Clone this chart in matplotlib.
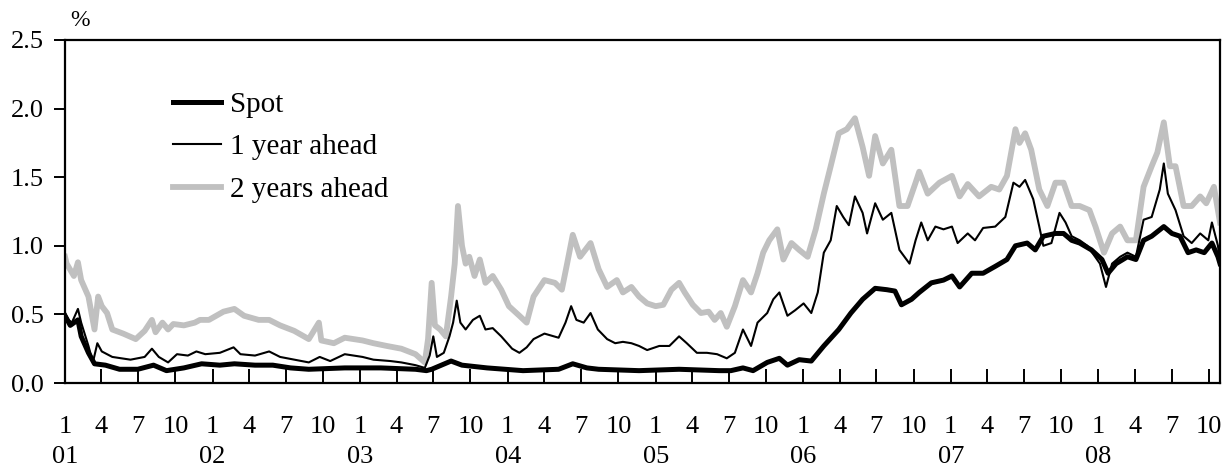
import matplotlib
matplotlib.use("Agg")
import matplotlib.pyplot as plt
import matplotlib.dates as mdates
import pandas as pd

plt.rcParams['font.family'] = ['Liberation Serif', 'DejaVu Serif']

# values (%)
spot_dates = ['2001-01-01', '2001-01-14', '2001-02-02', '2001-02-10', '2001-02-28', '2001-03-15',
              '2001-04-11', '2001-05-16', '2001-06-30', '2001-08-08', '2001-09-09', '2001-10-22',
              '2001-12-05', '2002-01-19', '2002-02-24', '2002-04-16', '2002-05-30', '2002-07-13',
              '2002-08-27', '2002-11-24', '2003-02-21', '2003-05-18', '2003-06-14', '2003-06-27',
              '2003-08-14', '2003-09-10', '2003-11-11', '2004-02-08', '2004-05-06', '2004-06-10',
              '2004-07-15', '2004-08-13', '2004-11-21', '2005-02-28', '2005-06-07', '2005-07-06',
              '2005-08-05', '2005-08-30', '2005-10-04', '2005-11-03', '2005-11-23', '2005-12-22',
              '2006-01-21', '2006-02-21', '2006-03-30', '2006-04-29', '2006-05-28', '2006-06-28',
              '2006-07-27', '2006-08-16', '2006-09-01', '2006-09-26', '2006-10-15', '2006-11-14',
              '2006-12-14', '2007-01-04', '2007-01-23', '2007-02-22', '2007-03-22', '2007-04-21',
              '2007-05-20', '2007-06-10', '2007-07-09', '2007-07-29', '2007-08-18', '2007-09-17',
              '2007-10-07', '2007-10-27', '2007-11-16', '2007-12-15', '2008-01-10', '2008-01-25',
              '2008-02-14', '2008-03-13', '2008-04-03', '2008-04-22', '2008-05-12', '2008-06-11',
              '2008-07-01', '2008-07-21', '2008-08-10', '2008-08-30', '2008-09-19', '2008-10-08',
              '2008-10-23', '2008-10-28']
spot = [0.49, 0.42, 0.46, 0.34, 0.22, 0.14,
        0.13, 0.10, 0.10, 0.13, 0.09, 0.11,
        0.14, 0.13, 0.14, 0.13, 0.13, 0.11,
        0.10, 0.11, 0.11, 0.10, 0.09, 0.10,
        0.16, 0.13, 0.11, 0.09, 0.10, 0.14,
        0.11, 0.10, 0.09, 0.10, 0.09, 0.09,
        0.11, 0.09, 0.15, 0.18, 0.13, 0.17,
        0.16, 0.27, 0.39, 0.51, 0.61, 0.69,
        0.68, 0.67, 0.57, 0.61, 0.66, 0.73,
        0.75, 0.78, 0.70, 0.80, 0.80, 0.85,
        0.90, 1.00, 1.02, 0.97, 1.07, 1.09,
        1.09, 1.04, 1.02, 0.97, 0.90, 0.80,
        0.87, 0.92, 0.90, 1.04, 1.07, 1.14,
        1.09, 1.07, 0.95, 0.97, 0.95, 1.02,
        0.92, 0.87]

y1_dates = ['2001-01-01', '2001-01-10', '2001-01-18', '2001-02-02', '2001-02-10', '2001-02-28',
            '2001-03-11', '2001-03-22', '2001-04-02', '2001-04-28', '2001-06-12', '2001-07-17',
            '2001-08-04', '2001-08-21', '2001-09-13', '2001-10-05', '2001-11-01', '2001-11-22',
            '2001-12-14', '2002-01-19', '2002-02-22', '2002-03-11', '2002-04-16', '2002-05-21',
            '2002-06-17', '2002-07-22', '2002-08-27', '2002-09-23', '2002-10-19', '2002-11-24',
            '2003-01-07', '2003-02-03', '2003-03-17', '2003-04-13', '2003-05-18', '2003-06-10',
            '2003-06-22', '2003-07-01', '2003-07-10', '2003-07-27', '2003-08-10', '2003-08-19',
            '2003-08-28', '2003-09-06', '2003-09-19', '2003-10-07', '2003-10-24', '2003-11-07',
            '2003-11-25', '2003-12-16', '2004-01-12', '2004-01-30', '2004-02-17', '2004-03-05',
            '2004-04-01', '2004-05-06', '2004-05-23', '2004-06-06', '2004-06-19', '2004-07-07',
            '2004-07-24', '2004-08-11', '2004-09-03', '2004-09-23', '2004-10-12', '2004-11-02',
            '2004-11-21', '2004-12-11', '2005-01-10', '2005-02-04', '2005-02-28', '2005-03-19',
            '2005-04-13', '2005-05-08', '2005-06-02', '2005-06-26', '2005-07-16', '2005-08-05',
            '2005-08-25', '2005-09-10', '2005-10-04', '2005-10-19', '2005-11-03', '2005-11-23',
            '2005-12-12', '2006-01-02', '2006-01-21', '2006-02-06', '2006-02-21', '2006-03-10',
            '2006-03-25', '2006-04-10', '2006-04-24', '2006-05-09', '2006-05-28', '2006-06-08',
            '2006-06-28', '2006-07-17', '2006-08-07', '2006-08-27', '2006-09-21', '2006-10-06',
            '2006-10-20', '2006-11-05', '2006-11-24', '2006-12-14', '2007-01-04', '2007-01-18',
            '2007-02-12', '2007-03-02', '2007-03-22', '2007-04-21', '2007-05-16', '2007-06-05',
            '2007-06-20', '2007-07-04', '2007-07-24', '2007-08-08', '2007-08-18', '2007-09-07',
            '2007-09-27', '2007-10-12', '2007-10-27', '2007-11-16', '2007-12-05', '2008-01-05',
            '2008-01-20', '2008-02-04', '2008-02-24', '2008-03-13', '2008-04-03', '2008-04-22',
            '2008-05-12', '2008-06-01', '2008-06-11', '2008-06-21', '2008-07-10', '2008-07-30',
            '2008-08-19', '2008-09-09', '2008-09-29', '2008-10-08', '2008-10-23', '2008-10-28']
year1 = [0.51, 0.46, 0.44, 0.54, 0.44, 0.27,
         0.15, 0.29, 0.23, 0.19, 0.17, 0.19,
         0.25, 0.19, 0.15, 0.21, 0.20, 0.23,
         0.21, 0.22, 0.26, 0.21, 0.20, 0.23,
         0.19, 0.17, 0.15, 0.19, 0.16, 0.21,
         0.19, 0.17, 0.16, 0.15, 0.13, 0.11,
         0.20, 0.34, 0.19, 0.22, 0.34, 0.44,
         0.60, 0.44, 0.39, 0.46, 0.49, 0.39,
         0.40, 0.34, 0.25, 0.22, 0.26, 0.32,
         0.36, 0.33, 0.44, 0.56, 0.46, 0.44,
         0.51, 0.39, 0.32, 0.29, 0.30, 0.29,
         0.27, 0.24, 0.27, 0.27, 0.34, 0.29,
         0.22, 0.22, 0.21, 0.18, 0.22, 0.39,
         0.27, 0.44, 0.51, 0.61, 0.66, 0.49,
         0.53, 0.58, 0.51, 0.66, 0.95, 1.04,
         1.29, 1.21, 1.15, 1.36, 1.24, 1.09,
         1.31, 1.19, 1.24, 0.97, 0.87, 1.04,
         1.17, 1.04, 1.14, 1.12, 1.14, 1.02,
         1.09, 1.04, 1.13, 1.14, 1.21, 1.46,
         1.43, 1.48, 1.34, 1.14, 1.00, 1.02,
         1.24, 1.17, 1.07, 1.04, 1.00, 0.87,
         0.70, 0.87, 0.92, 0.95, 0.92, 1.19,
         1.21, 1.41, 1.60, 1.38, 1.26, 1.07,
         1.02, 1.09, 1.04, 1.17, 1.00, 0.87]

y2_dates = ['2001-01-01', '2001-01-05', '2001-01-23', '2001-02-02', '2001-02-10', '2001-02-28',
            '2001-03-15', '2001-03-24', '2001-04-02', '2001-04-15', '2001-04-28', '2001-05-25',
            '2001-06-25', '2001-07-17', '2001-08-04', '2001-08-13', '2001-08-30', '2001-09-13',
            '2001-09-26', '2001-10-22', '2001-11-18', '2001-12-01', '2001-12-23', '2002-01-10',
            '2002-01-28', '2002-02-24', '2002-03-20', '2002-04-25', '2002-05-21', '2002-06-17',
            '2002-07-22', '2002-08-27', '2002-09-21', '2002-09-27', '2002-10-28', '2002-11-24',
            '2003-01-07', '2003-02-03', '2003-03-08', '2003-04-13', '2003-05-18', '2003-06-10',
            '2003-06-18', '2003-06-27', '2003-07-05', '2003-07-18', '2003-08-01', '2003-08-14',
            '2003-08-23', '2003-08-31', '2003-09-10', '2003-09-19', '2003-09-28', '2003-10-11',
            '2003-10-24', '2003-11-07', '2003-11-25', '2003-12-16', '2004-01-04', '2004-01-30',
            '2004-02-17', '2004-03-05', '2004-04-01', '2004-04-27', '2004-05-14', '2004-05-27',
            '2004-06-10', '2004-06-28', '2004-07-24', '2004-08-13', '2004-09-03', '2004-09-27',
            '2004-10-12', '2004-11-02', '2004-11-21', '2004-12-11', '2005-01-01', '2005-01-20',
            '2005-02-09', '2005-02-28', '2005-03-14', '2005-04-03', '2005-04-23', '2005-05-12',
            '2005-05-27', '2005-06-11', '2005-06-26', '2005-07-16', '2005-08-05', '2005-08-25',
            '2005-09-10', '2005-09-24', '2005-10-09', '2005-10-29', '2005-11-13', '2005-12-03',
            '2005-12-22', '2006-01-12', '2006-02-01', '2006-02-21', '2006-03-10', '2006-03-30',
            '2006-04-19', '2006-05-09', '2006-05-28', '2006-06-13', '2006-06-28', '2006-07-17',
            '2006-08-07', '2006-08-27', '2006-09-16', '2006-10-06', '2006-10-15', '2006-11-05',
            '2006-12-04', '2007-01-04', '2007-01-23', '2007-02-12', '2007-03-12', '2007-04-11',
            '2007-05-01', '2007-05-20', '2007-06-10', '2007-06-20', '2007-07-04', '2007-07-19',
            '2007-08-08', '2007-08-28', '2007-09-17', '2007-10-07', '2007-10-27', '2007-11-16',
            '2007-12-10', '2007-12-25', '2008-01-15', '2008-02-04', '2008-02-24', '2008-03-13',
            '2008-04-03', '2008-04-22', '2008-05-12', '2008-05-26', '2008-06-11', '2008-06-26',
            '2008-07-10', '2008-07-30', '2008-08-19', '2008-09-09', '2008-09-24', '2008-10-13',
            '2008-10-28']
year2 = [0.92, 0.87, 0.78, 0.88, 0.75, 0.63,
         0.39, 0.63, 0.56, 0.51, 0.39, 0.36,
         0.32, 0.38, 0.46, 0.37, 0.44, 0.39,
         0.43, 0.42, 0.44, 0.46, 0.46, 0.49,
         0.52, 0.54, 0.49, 0.46, 0.46, 0.42,
         0.38, 0.32, 0.44, 0.31, 0.29, 0.33,
         0.31, 0.29, 0.27, 0.25, 0.21, 0.15,
         0.32, 0.73, 0.42, 0.39, 0.34, 0.63,
         0.87, 1.29, 1.00, 0.87, 0.92, 0.78,
         0.90, 0.73, 0.78, 0.68, 0.56, 0.49,
         0.44, 0.63, 0.75, 0.73, 0.68, 0.87,
         1.08, 0.92, 1.02, 0.83, 0.70, 0.75,
         0.66, 0.70, 0.63, 0.58, 0.56, 0.57,
         0.68, 0.73, 0.66, 0.57, 0.51, 0.52,
         0.46, 0.51, 0.41, 0.56, 0.75, 0.66,
         0.80, 0.95, 1.04, 1.12, 0.90, 1.02,
         0.97, 0.92, 1.12, 1.38, 1.58, 1.82,
         1.85, 1.93, 1.72, 1.51, 1.80, 1.60,
         1.70, 1.29, 1.29, 1.46, 1.54, 1.38,
         1.46, 1.51, 1.36, 1.45, 1.36, 1.43,
         1.41, 1.51, 1.85, 1.75, 1.82, 1.70,
         1.41, 1.29, 1.46, 1.46, 1.29, 1.29,
         1.26, 1.14, 0.95, 1.09, 1.14, 1.04,
         1.04, 1.43, 1.58, 1.68, 1.90, 1.58,
         1.58, 1.29, 1.29, 1.36, 1.31, 1.43,
         1.17]

labels = ['Spot', '1 year ahead', '2 years ahead']
year_labels = ['01', '02', '03', '04', '05', '06', '07', '08']

fig = plt.figure(figsize=(12.27, 4.67), dpi=100)
ax = fig.add_axes([65 / 1227, 1 - 383 / 467, 1155 / 1227, 343 / 467])

ax.plot(pd.to_datetime(spot_dates), spot, color='black', lw=3.6, label=labels[0], zorder=3)
ax.plot(pd.to_datetime(y1_dates), year1, color='black', lw=1.5, label=labels[1], zorder=4)
ax.plot(pd.to_datetime(y2_dates), year2, color='#c0c0c0', lw=4.2, label=labels[2], zorder=2)

ax.set_xlim(pd.Timestamp('2001-01-01'), pd.Timestamp('2008-10-28'))
ax.set_ylim(0, 2.5)
ax.set_yticks([0, 0.5, 1.0, 1.5, 2.0, 2.5])
ax.set_yticklabels(['%.1f' % v for v in ax.get_yticks()])

ax.xaxis.set_major_locator(mdates.MonthLocator(bymonth=[1, 4, 7, 10]))
ax.xaxis.set_major_formatter(mdates.DateFormatter('%-m'))

for sp in ax.spines.values():
    sp.set_linewidth(1.6)

ax.tick_params(axis='x', direction='in', length=10, width=1.4, pad=24, labelsize=19)
ax.tick_params(axis='y', direction='out', length=8, width=1.4, pad=7, labelsize=19)

# year labels under January ticks
for yl in year_labels:
    ax.text(pd.Timestamp('20%s-01-01' % yl), -0.215, yl, transform=ax.get_xaxis_transform(),
            ha='center', va='center', fontsize=19)

fig.text(80 / 1227, 1 - 21 / 467, '%', ha='center', va='center', fontsize=17)

ax.legend(loc='upper left', bbox_to_anchor=(0.0935, 0.85), frameon=False, fontsize=21,
          handlelength=1.65, handletextpad=0.3, labelspacing=0.55, borderpad=0, borderaxespad=0)

fig.savefig('out.png', dpi=100)
